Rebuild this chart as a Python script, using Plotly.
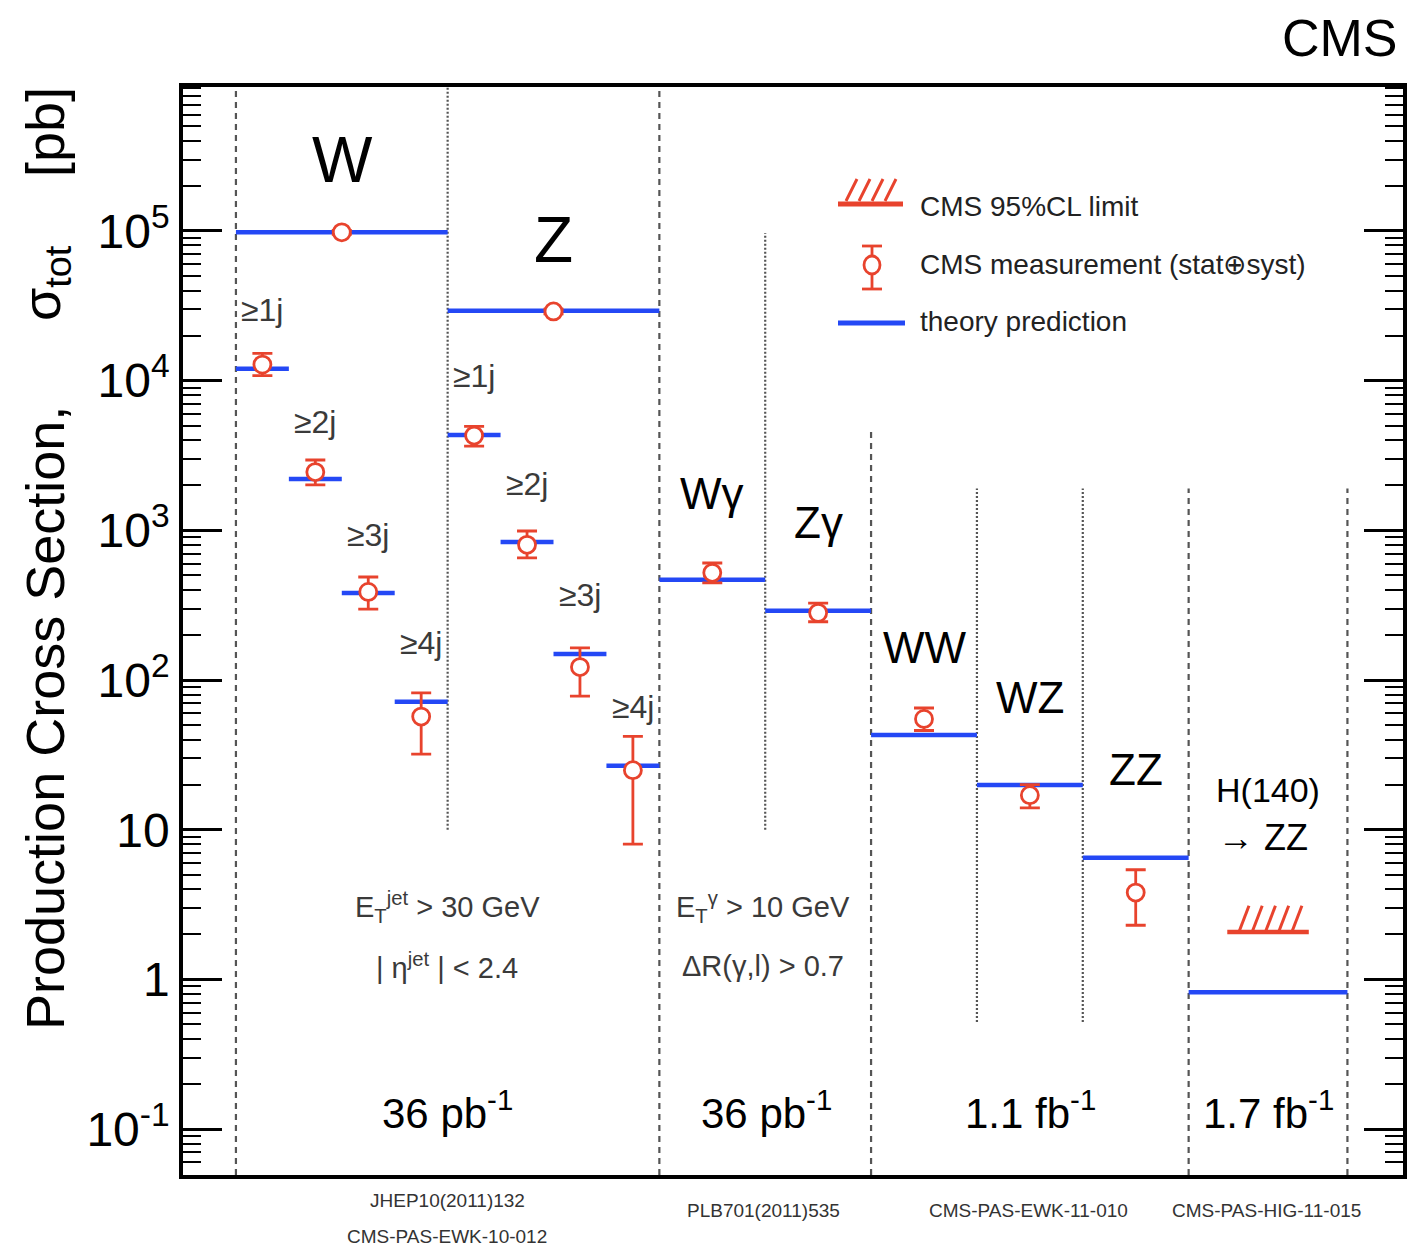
import plotly.graph_objects as go

# ---------------- data ----------------
processes = ["W", "W>=1j", "W>=2j", "W>=3j", "W>=4j",
             "Z", "Z>=1j", "Z>=2j", "Z>=3j", "Z>=4j",
             "Wgamma", "Zgamma", "WW", "WZ", "ZZ", "H(140)->ZZ"]
# category bins along x (in jet-bin units)
bin_lo = [0, 0, 1, 2, 3, 4, 4, 5, 6, 7, 8, 10, 12, 14, 16, 18]
bin_hi = [4, 1, 2, 3, 4, 8, 5, 6, 7, 8, 10, 12, 14, 16, 18, 21]
theory = [9.8e4, 1.20e4, 2.20e3, 382, 71.5,
          2.93e4, 4.34e3, 836, 149, 26.7,
          467, 290, 43, 19.9, 6.5, 0.82]
meas = [9.8e4, 1.28e4, 2.45e3, 388, 57,
        2.9e4, 4.3e3, 800, 122, 25,
        520, 281, 55, 17, 3.8, None]
err_up = [3e3, 2.4e3, 500, 100, 25,
          1e3, 650, 190, 42, 17,
          85, 45, 10, 3, 1.6, None]
err_dn = [3e3, 2.0e3, 440, 90, 25,
          1e3, 650, 145, 44, 17,
          75, 36, 9, 3, 1.5, None]
limit_process = "H(140)->ZZ"
limit_value = 2.07

y_ticks = [0.1, 1, 10, 100, 1e3, 1e4, 1e5]
y_ticktext = ["10<sup>-1</sup>", "1", "10", "10<sup>2</sup>", "10<sup>3</sup>",
              "10<sup>4</sup>", "10<sup>5</sup>"]

# ---------------- style ----------------
RED = "#e8432d"
BLUE = "#2448f5"
FONT = "Liberation Sans, Arial, Helvetica, sans-serif"
YLOG = [-1.307, 5.962]
XR = [-1.0, 22.05]
OFF = 8  # page body margin
W_PX, H_PX = 1416 - OFF, 1249 - OFF
ML, MR, MT, MB = 183 - OFF, 13, 87 - OFF, 74
ymin, ymax = 10 ** YLOG[0], 10 ** YLOG[1]

fig = go.Figure()

# separators (decoration)
dashed = [(0, ymin, ymax), (8, ymin, ymax), (12, ymin, 4.6e3), (18, ymin, 1.9e3), (21, ymin, 1.9e3)]
dotted = [(4, 10, ymax), (10, 10, 9.7e4), (14, 0.52, 1.9e3), (16, 0.52, 1.9e3)]
for lines, dash in ((dashed, "6px,5px"), (dotted, "2px,2px")):
    xs, ys = [], []
    for x, y0, y1 in lines:
        xs += [x, x, None]
        ys += [y0, y1, None]
    fig.add_trace(go.Scatter(x=xs, y=ys, mode="lines", showlegend=False, hoverinfo="skip",
                             line=dict(color="#555555", width=2.2, dash=dash)))

# theory lines
tx, ty = [], []
for lo, hi, v in zip(bin_lo, bin_hi, theory):
    tx += [lo, hi, None]
    ty += [v, v, None]
fig.add_trace(go.Scatter(x=tx, y=ty, mode="lines", showlegend=False, hoverinfo="skip",
                         line=dict(color=BLUE, width=4.5)))

# limit with hatches
li = processes.index(limit_process)
cx = (bin_lo[li] + bin_hi[li]) / 2
half = 0.77
fig.add_trace(go.Scatter(x=[cx - half, cx + half], y=[limit_value, limit_value], mode="lines",
                         showlegend=False, hoverinfo="skip", line=dict(color=RED, width=4.5)))
hx, hy = [], []
for k in range(5):
    x0 = cx - 0.55 + k * 0.25
    hx += [x0, x0 + 0.19, None]
    hy += [limit_value, limit_value * 1.5, None]
fig.add_trace(go.Scatter(x=hx, y=hy, mode="lines", showlegend=False, hoverinfo="skip",
                         xaxis="x", yaxis="y2", line=dict(color=RED, width=3)))

# measurements
mx, my, mu, md = [], [], [], []
for lo, hi, v, u, d in zip(bin_lo, bin_hi, meas, err_up, err_dn):
    if v is None:
        continue
    mx.append((lo + hi) / 2)
    my.append(v)
    mu.append(u)
    md.append(d)
fig.add_trace(go.Scatter(x=mx, y=my, mode="markers", showlegend=False, hoverinfo="skip",
                         marker=dict(symbol="circle", size=17, color="white",
                                     line=dict(color=RED, width=2.8)),
                         error_y=dict(type="data", array=mu, arrayminus=md, symmetric=False,
                                      color=RED, thickness=2.8, width=10)))

# ---------------- annotations ----------------
PW = W_PX - ML - MR
PH = H_PX - MT - MB


def P(xpx, ypx):
    # page pixel -> paper fraction
    return (xpx - OFF - ML) / PW, (H_PX - MB - (ypx - OFF)) / PH


annots = []


def txt(text, xpx, ypx, size, color="black", xanchor="center", angle=0):
    x, y = P(xpx, ypx)
    annots.append(dict(text=text, x=x, y=y, xref="paper", yref="paper", showarrow=False,
                       xanchor=xanchor, yanchor="middle", textangle=angle,
                       font=dict(family=FONT, size=size, color=color)))


txt("CMS", 1400, 38, 52, xanchor="right")
txt("Production Cross Section,", 45, 718, 54, angle=-90)
txt("σ<sub>tot</sub>", 45, 283, 54, angle=-90)
txt("[pb]", 45, 132, 54, angle=-90)

txt("W", 342, 160, 64)
txt("Z", 553, 240, 64)
gray = "#3a3a3a"
for lab, x, y in [("≥1j", 262, 310), ("≥2j", 315, 422), ("≥3j", 368, 535), ("≥4j", 421, 643),
                  ("≥1j", 474, 376), ("≥2j", 527, 484), ("≥3j", 580, 595), ("≥4j", 633, 707)]:
    txt(lab, x, y, 32, gray)
txt("Wγ", 712, 494, 44)
txt("Zγ", 818, 522, 44)
txt("WW", 925, 647, 44)
txt("WZ", 1030, 697, 44)
txt("ZZ", 1136, 770, 44)
txt("H(140)", 1268, 790, 34)
txt("→ ZZ", 1263, 838, 36)

txt("E<sub>T</sub><sup>jet</sup> > 30 GeV", 447, 907, 29, gray)
txt("| η<sup>jet</sup> | &lt; 2.4", 447, 966, 29, gray)
txt("E<sub>T</sub><sup>γ</sup> > 10 GeV", 763, 907, 29, gray)
txt("ΔR(γ,l) > 0.7", 763, 966, 29, gray)

for lab, x in [("36 pb<sup>-1</sup>", 447), ("36 pb<sup>-1</sup>", 766),
               ("1.1 fb<sup>-1</sup>", 1030), ("1.7 fb<sup>-1</sup>", 1268)]:
    txt(lab, x, 1110, 42)

for lab, x, y in [("JHEP10(2011)132", 447, 1200), ("CMS-PAS-EWK-10-012", 447, 1236),
                  ("PLB701(2011)535", 763, 1210), ("CMS-PAS-EWK-11-010", 1028, 1210),
                  ("CMS-PAS-HIG-11-015", 1266, 1210)]:
    txt(lab, x, y, 19, "#333333")

# legend (manual)
txt("CMS 95%CL limit", 918, 206, 28, "#222222", xanchor="left")
txt("CMS measurement (stat⊕syst)", 918, 264, 28, "#222222", xanchor="left")
txt("theory prediction", 918, 321, 28, "#222222", xanchor="left")

shapes = []


def seg(x0, y0, x1, y1, color, width):
    a, b = P(x0, y0)
    c, d = P(x1, y1)
    shapes.append(dict(type="line", xref="paper", yref="paper", x0=a, y0=b, x1=c, y1=d,
                       line=dict(color=color, width=width)))


seg(838, 204, 903, 204, RED, 5)
for bx in (846, 859, 872, 885):
    seg(bx, 201, bx + 11, 179, RED, 3)
seg(872, 246, 872, 289, RED, 2.8)
seg(862, 246, 882, 246, RED, 2.8)
seg(862, 289, 882, 289, RED, 2.8)
a, b = P(864, 256)
c, d = P(880, 274)
shapes.append(dict(type="circle", xref="paper", yref="paper", x0=a, y0=b, x1=c, y1=d,
                   fillcolor="white", line=dict(color=RED, width=2.8)))
seg(838, 323, 905, 323, BLUE, 5)

minor_vals = [k * 10 ** n for n in range(-2, 6) for k in range(2, 10)]

yax_common = dict(type="log", range=YLOG, tickmode="array", tickvals=y_ticks,
                  ticks="inside", ticklen=39, tickwidth=2.5, tickcolor="black",
                  showgrid=False, zeroline=False, showline=True, linewidth=3.5,
                  linecolor="black",
                  minor=dict(tickmode="array", tickvals=minor_vals, ticks="inside", ticklen=18,
                             tickwidth=2, tickcolor="black", showgrid=False))

fig.update_layout(
    width=W_PX, height=H_PX,
    margin=dict(l=ML, r=MR, t=MT, b=MB),
    paper_bgcolor="white", plot_bgcolor="white",
    showlegend=False,
    annotations=annots, shapes=shapes,
    font=dict(family=FONT, color="black"),
    xaxis=dict(range=XR, showticklabels=False, ticks="", showgrid=False, zeroline=False,
               showline=True, linewidth=3.5, linecolor="black", mirror=True),
    yaxis=dict(**yax_common, ticktext=y_ticktext, side="left",
               tickfont=dict(family=FONT, size=48, color="black")),
    yaxis2=dict(**yax_common, overlaying="y", side="right", showticklabels=False),
)

fig.write_html("out.html")
